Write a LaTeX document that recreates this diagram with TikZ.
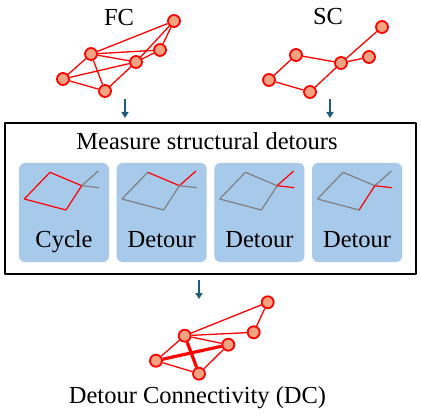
\documentclass[tikz,border=0pt]{standalone}
\usepackage{fontspec}
\setmainfont{Liberation Serif}
\usetikzlibrary{arrows.meta,backgrounds}
\definecolor{nodefill}{RGB}{241,163,130}
\definecolor{panelblue}{RGB}{167,201,234}
\definecolor{arrowteal}{RGB}{31,92,122}
\definecolor{edgegray}{RGB}{128,128,128}
\begin{document}
\begin{tikzpicture}[x=1pt,y=-1pt,line join=round]
        \tikzstyle{vertex}=[circle,draw=red,fill=nodefill,line width=1.8pt,minimum size=12pt,inner sep=0pt]
        \tikzstyle{link}=[red,line width=1.3pt]
        \tikzstyle{flow}=[arrowteal,line width=1.6pt,-{Triangle[length=6pt,width=7pt]}]
        \tikzstyle{panel}=[fill=panelblue,rounded corners=6pt,minimum width=90pt,minimum height=99pt,inner sep=0pt]
        \tikzstyle{txt}=[font=\fontsize{24.5}{28}\selectfont,inner sep=0pt]
        \useasboundingbox (0,0) rectangle (421,420);

                % FC graph
                \node[txt] (FC) at (119,18) {FC};
                \foreach \num/\x/\y in {a/174/21, b/91/54, c/160/50, d/136/62, e/63/79, f/105/91}
                        \node[vertex] (F-\num) at (\x,\y) {};
                \begin{pgfonlayer}{background}
                    \foreach \from/\to in {b/a, b/c, b/d, b/e, b/f, a/d, a/c, c/d, e/d, e/f, f/d}
                        \draw[link] (F-\from) -- (F-\to);
                \end{pgfonlayer}

                % SC graph
                \node[txt] (SC) at (328,17) {SC};
                \foreach \num/\x/\y in {a/382/27, b/369/57, c/341/63, d/296/55, e/269/80, f/310/92}
                        \node[vertex] (S-\num) at (\x,\y) {};
                \begin{pgfonlayer}{background}
                    \foreach \from/\to in {a/c, b/c, d/c, d/e, e/f, f/c}
                        \draw[link] (S-\from) -- (S-\to);
                \end{pgfonlayer}

                % detour box
                \node[draw=black,line width=1.2pt,minimum width=411pt,minimum height=151pt,inner sep=0pt] (box) at (210.5,198.5) {};
                \node[txt] (title) at (207,141) {Measure structural detours};
                \coordinate (fcin) at (125,99);
                \coordinate (scin) at (330,99);
                \draw[flow] (fcin) -- (125,118);
                \draw[flow] (scin) -- (330,118);

                \foreach \i/\lbl/\ca/\cb/\cc/\cd/\ce/\cf in {0/Cycle/red/red/red/red/edgegray/edgegray,
                            1/Detour/red/edgegray/edgegray/edgegray/red/edgegray,
                            2/Detour/edgegray/edgegray/edgegray/edgegray/red/red,
                            3/Detour/edgegray/red/edgegray/edgegray/edgegray/red} {
                    \begin{scope}[xshift=97.7*\i]
                        \node[panel] (P-\i) at (64,212.5) {};
                        \node[txt,anchor=base] (L-\i) at (64,247) {\lbl};
                        \coordinate (top) at (50,172.3);
                        \coordinate (hub) at (81.7,185.7);
                        \coordinate (bot) at (66,210);
                        \coordinate (lft) at (24.3,199);
                        \coordinate (sa) at (98.3,171);
                        \coordinate (sb) at (99,187.7);
                        \draw[\ca,line width=1.2pt] (top) -- (hub);
                        \draw[\cb,line width=1.2pt] (hub) -- (bot);
                        \draw[\cc,line width=1.2pt] (bot) -- (lft);
                        \draw[\cd,line width=1.2pt] (lft) -- (top);
                        \draw[\ce,line width=1.2pt] (hub) -- (sa);
                        \draw[\cf,line width=1.2pt] (hub) -- (sb);
                    \end{scope}
                }

                % DC graph
                \coordinate (boxout) at (199,280);
                \draw[flow] (boxout) -- (199,299);
                \foreach \num/\x/\y in {a/267.7/302.3, b/184.7/335.7, c/253.7/332.3, d/228.3/344.7, e/156/360.7, f/199/373.7}
                        \node[vertex] (D-\num) at (\x,\y) {};
                \begin{pgfonlayer}{background}
                    \foreach \from/\to in {b/a, b/c, b/d, b/e, a/c, e/f, f/d}
                        \draw[link] (D-\from) -- (D-\to);
                    \draw[red,line width=3.2pt] (D-e) -- (D-d);
                    \draw[red,line width=3.2pt] (D-b) -- (D-f);
                \end{pgfonlayer}
                \node[txt] (DC) at (197.5,398) {Detour Connectivity (DC)};
            \end{tikzpicture}
\end{document}
